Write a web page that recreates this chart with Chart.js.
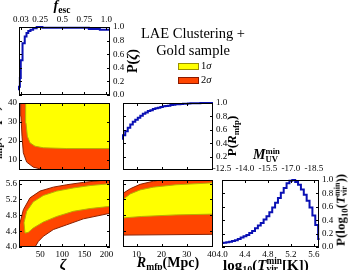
<!DOCTYPE html>
<html>
<head>
<meta charset="utf-8">
<script src="https://cdn.jsdelivr.net/npm/chart.js@4.4.1/dist/chart.umd.min.js"></script>
<style>
  html, body { margin: 0; padding: 0; background: #fff; }
  #page { position: relative; width: 350px; height: 270px; overflow: hidden; font-family: 'Liberation Serif', serif; color: #000; }
  #page canvas { position: absolute; left: 0; top: 0; }
  .t { position: absolute; white-space: nowrap; line-height: 1; }
  .b { font-weight: bold; }
  .rot { transform: translate(-50%, -50%) rotate(-90deg); }
  .mid { transform: translateX(-50%); }
  .sub { font-size: 68%; position: relative; top: 0.32em; }
  .ss { display: inline-block; font-size: 62%; line-height: 0.9; vertical-align: -0.3em; }
  .ss span { display: block; }
  .sw { position: absolute; width: 19px; height: 5px; }
</style>
</head>
<body>
<div id="page">
  <canvas id="pZeta" width="350" height="270"></canvas>
  <canvas id="zetaRmfp" width="350" height="270"></canvas>
  <canvas id="zetaTvir" width="350" height="270"></canvas>
  <canvas id="pRmfp" width="350" height="270"></canvas>
  <canvas id="rmfpTvir" width="350" height="270"></canvas>
  <canvas id="pTvir" width="350" height="270"></canvas>

  <div class="t b mid" style="left:62px;top:-1px;font-size:14px"><i>f</i><span class="sub">esc</span></div>
  <div class="t b rot" style="left:133px;top:61px;font-size:14px">P(<i>ζ</i>)</div>

  <div class="t mid" style="left:193px;top:26px;font-size:14.5px">LAE Clustering +</div>
  <div class="t mid" style="left:193px;top:43px;font-size:14.5px">Gold sample</div>
  <div class="sw" style="left:178px;top:63px;background:#ffff00;border:1px solid #9a9000"></div>
  <div class="sw" style="left:178px;top:77px;background:#ff4500;border:1px solid #8a1a00"></div>
  <div class="t" style="left:201px;top:61px;font-size:10.5px">1<i>σ</i></div>
  <div class="t" style="left:201px;top:75px;font-size:10.5px">2<i>σ</i></div>

  <div class="t b rot" style="left:-5px;top:137px;font-size:14px"><i>R</i><span class="sub">mfp</span>(Mpc)</div>
  <div class="t b rot" style="left:231px;top:136px;font-size:13px">P(<i>R</i><span class="sub">mfp</span>)</div>
  <div class="t b" style="left:253px;top:148px;font-size:14px"><i>M</i><span class="ss"><span>min</span><span>UV</span></span></div>
  <div class="t b rot" style="left:341px;top:210px;font-size:13px">P(log<span class="sub">10</span>(<i>T</i><span class="ss"><span>min</span><span>vir</span></span>))</div>

  <div class="t b mid" style="left:63px;top:257px;font-size:15px"><i>ζ</i></div>
  <div class="t b mid" style="left:168px;top:256px;font-size:14px"><i>R</i><span class="sub">mfp</span>(Mpc)</div>
  <div class="t b" style="left:223px;top:257px;font-size:15px">log<span class="sub">10</span>(<i>T</i><span class="ss"><span>min</span><span>vir</span></span>[K])</div>
</div>

<script>
// marginal of zeta (step starts)
const zetaSteps = [2, 4, 6, 10, 15, 19, 23, 28, 34, 42, 55, 160, 185, 208];
const pZeta = [0.07, 0.12, 0.25, 0.51, 0.76, 0.86, 0.91, 0.94, 0.96, 0.98, 1.0, 0.99, 0.97, 0.96];

// marginal of R_mfp (1 Mpc bins)
const rmfpBins = [4.5, 5.5, 6.5, 7.5, 8.5, 9.5, 10.5, 11.5, 12.5, 13.5, 14.5, 15.5, 16.5, 17.5, 18.5, 19.5, 20.5, 21.5, 22.5,
  23.5, 24.5, 25.5, 26.5, 27.5, 28.5, 29.5, 30.5, 31.5, 32.5, 33.5, 34.5, 35.5, 36.5, 37.5, 38.5, 39.5, 40.5];
const pRmfp = [0.45, 0.52, 0.58, 0.63, 0.68, 0.72, 0.75, 0.78, 0.81, 0.84, 0.86, 0.88, 0.89, 0.91, 0.92, 0.93, 0.94, 0.95, 0.955,
  0.96, 0.97, 0.975, 0.98, 0.983, 0.986, 0.989, 0.99, 0.993, 0.995, 0.996, 0.997, 0.998, 0.999, 1.0, 1.0, 1.0, 1.0];

// marginal of log10(Tvir)
const tvirBins = [4.0, 4.05, 4.1, 4.15, 4.2, 4.25, 4.3, 4.35, 4.4, 4.45, 4.5, 4.55, 4.6, 4.65, 4.7, 4.75, 4.8, 4.85,
  4.9, 4.95, 5.0, 5.05, 5.1, 5.15, 5.2, 5.25, 5.3, 5.35, 5.4, 5.45, 5.5, 5.55, 5.6, 5.65, 5.7];
const pTvir = [0.06, 0.065, 0.07, 0.08, 0.09, 0.10, 0.12, 0.14, 0.16, 0.18, 0.21, 0.24, 0.28, 0.32, 0.36, 0.41, 0.46, 0.52,
  0.59, 0.66, 0.73, 0.81, 0.88, 0.95, 0.99, 1.0, 0.97, 0.93, 0.86, 0.78, 0.69, 0.59, 0.47, 0.33, 0.12];

// 1 and 2 sigma regions, [x, y] outlines
const zetaRmfp2sig = [[5.8, 41], [212, 41], [212, 4], [72, 4], [34.4, 6.2], [19.4, 8.85], [11.8, 13.75], [8.8, 22.5], [6.5, 33], [5.8, 41]];
const zetaRmfp1sig = [[17.1, 41], [212, 41], [212, 16], [110, 16], [57.1, 16.4], [38.2, 17.25], [26.9, 19], [20.9, 22.5], [17.8, 29.5], [17.1, 41]];
const zetaTvir2sig = [[0, 3.9], [0, 4.48], [4.3, 4.61], [11.8, 4.94], [26.9, 5.24], [49.5, 5.41], [79.7, 5.51], [110, 5.57], [147.6, 5.63],
  [185.4, 5.675], [212, 5.69], [212, 4.86], [147.6, 4.71], [110, 4.56], [79.7, 4.44], [57.1, 4.27], [45.8, 4.14], [33, 3.9], [0, 3.9]];
const zetaTvir1sig = [[15.6, 4.35], [13.3, 4.61], [19.4, 4.9], [34.4, 5.14], [57.1, 5.30], [87.3, 5.41], [125, 5.49], [162.7, 5.55], [212, 5.60],
  [212, 5.03], [162.7, 4.97], [125, 4.90], [87.3, 4.77], [57.1, 4.63], [34.4, 4.48], [23.1, 4.37], [15.6, 4.35]];
const rmfpTvir2sig = [[4, 5.33], [7.5, 5.47], [11.4, 5.58], [16.7, 5.66], [20.6, 5.7], [41, 5.7], [41, 4.32], [4, 4.30], [4, 5.33]];
const rmfpTvir1sig = [[4, 5.17], [7.5, 5.34], [11.4, 5.44], [16.7, 5.51], [25.8, 5.57], [41, 5.62], [41, 4.83], [25.8, 4.81], [12, 4.77], [4, 4.73], [4, 5.17]];

// ticks
const zetaTicks = [50, 100, 150, 200];
const fescTicks = [0.03, 0.25, 0.5, 0.75, 1.0];
const fescLabels = ['0.03', '0.25', '0.5', '0.75', '1.0'];
const rmfpTicks = [10, 20, 30, 40];
const tvirTicks = [4.0, 4.4, 4.8, 5.2, 5.6];
const muvLabels = ['-12.5', '-14.0', '-15.5', '-17.0', '-18.5'];
const probTicks = [0.0, 0.2, 0.4, 0.6, 0.8, 1.0];

const zMin = 2, zMax = 208;
const rMin = 4.6, rMax = 40.5;
const tMin = 4.0, tMax = 5.69;

const YELLOW = '#ffff00', ORANGE = '#ff4500', LINE = '#0a10b4';
const tickFont = { family: "'Liberation Serif', serif", size: 9 };
const fmt1 = v => v.toFixed(1);
const AXIS_W = 18, AXIS_H = 20;  // fixed room for tick labels

// frame + inward ticks on both sides
const framePlugin = {
  id: 'frame',
  afterDatasetsDraw(chart) {
    const { ctx, chartArea: a } = chart;
    ctx.save();
    ctx.strokeStyle = '#000';
    ctx.lineWidth = 1;
    Object.values(chart.scales).forEach(s => {
      s.ticks.forEach(t => {
        const p = Math.round(s.getPixelForValue(t.value)) + 0.5;
        ctx.beginPath();
        if (s.isHorizontal()) {
          ctx.moveTo(p, a.bottom); ctx.lineTo(p, a.bottom - 3);
          ctx.moveTo(p, a.top); ctx.lineTo(p, a.top + 3);
        } else {
          ctx.moveTo(a.left, p); ctx.lineTo(a.left + 3, p);
          ctx.moveTo(a.right, p); ctx.lineTo(a.right - 3, p);
        }
        ctx.stroke();
      });
    });
    ctx.strokeRect(a.left + 0.5, a.top + 0.5, a.width - 1, a.height - 1);
    ctx.restore();
  }
};

function axis(pos, min, max, ticks, opt = {}) {
  const shown = opt.labels !== false;
  return {
    type: 'linear', position: pos, min, max,
    grid: { display: false, drawTicks: false },
    border: { display: false },
    ticks: {
      display: shown, font: tickFont, color: '#000',
      padding: opt.pad ?? 2, autoSkip: false, maxRotation: 0,
      callback: opt.fmt || (v => v)
    },
    afterBuildTicks: s => { s.ticks = ticks.map(v => ({ value: v })); },
    afterFit: s => {
      if (s.isHorizontal()) s.height = shown ? AXIS_H : 0;
      else s.width = shown ? AXIS_W : 0;
    }
  };
}

function stepLine(xs, ys, mode) {
  return {
    data: xs.map((x, i) => ({ x, y: ys[i] })), showLine: true, stepped: mode,
    borderColor: LINE, borderWidth: 2, pointRadius: 0, fill: false, clip: 1
  };
}

function region(poly, color, edge) {
  return {
    data: poly.map(([x, y]) => ({ x, y })), showLine: true, fill: 'shape',
    backgroundColor: color, borderColor: edge, borderWidth: 1, pointRadius: 0, clip: 0
  };
}

function makePanel(id, box, datasets, scales) {
  const pad = { left: box[0], top: box[1], right: 350 - box[2], bottom: 270 - box[3] };
  Object.values(scales).forEach(s => {
    if (s.ticks.display === false) return;
    pad[s.position] -= (s.position === 'left' || s.position === 'right') ? AXIS_W : AXIS_H;
  });
  new Chart(document.getElementById(id), {
    type: 'scatter',
    data: { datasets },
    options: {
      responsive: false, animation: false,
      layout: { padding: pad },
      plugins: { legend: { display: false }, tooltip: { enabled: false } },
      scales
    },
    plugins: [framePlugin]
  });
}

makePanel('pZeta', [19, 27, 110, 95], [stepLine(zetaSteps, pZeta, 'after')], {
  x: axis('bottom', zMin, zMax, [50, 100, 150], { labels: false }),
  xTop: axis('top', zMin, zMax, fescTicks.map(f => f * 200), { fmt: (v, i) => fescLabels[i], pad: 2 }),
  y: axis('right', 0, 1, probTicks, { fmt: fmt1, pad: 3 })
});

makePanel('zetaRmfp', [19, 103, 110, 170], [region(zetaRmfp1sig, YELLOW, '#b8ae00'), region(zetaRmfp2sig, ORANGE, '#8a2000')], {
  x: axis('bottom', zMin, zMax, [50, 100, 150], { labels: false }),
  y: axis('left', 4.7, 40, rmfpTicks)
});

makePanel('zetaTvir', [19, 180, 110, 247], [region(zetaTvir1sig, YELLOW, '#b8ae00'), region(zetaTvir2sig, ORANGE, '#8a2000')], {
  x: axis('bottom', zMin, zMax, zetaTicks),
  y: axis('left', tMin, tMax, tvirTicks, { fmt: fmt1 })
});

makePanel('pRmfp', [123, 103, 213, 170], [stepLine(rmfpBins, pRmfp, 'after')], {
  x: axis('bottom', rMin, rMax, [10, 20, 30], { labels: false }),
  y: axis('right', 0, 1, probTicks.slice(1), { fmt: fmt1, pad: 3 })
});

makePanel('rmfpTvir', [123, 180, 213, 247], [region(rmfpTvir1sig, YELLOW, '#b8ae00'), region(rmfpTvir2sig, ORANGE, '#8a2000')], {
  x: axis('bottom', rMin, rMax, rmfpTicks),
  y: axis('left', tMin, tMax, [4.4, 4.8, 5.2, 5.6], { labels: false })
});

makePanel('pTvir', [222, 180, 319, 247], [stepLine(tvirBins, pTvir, 'middle')], {
  x: axis('bottom', tMin, tMax, tvirTicks, { fmt: fmt1 }),
  xTop: axis('top', tMin, tMax, tvirTicks, { fmt: (v, i) => muvLabels[i], pad: 6 }),
  y: axis('right', 0, 1, probTicks, { fmt: fmt1, pad: 3 })
});
</script>
</body>
</html>
